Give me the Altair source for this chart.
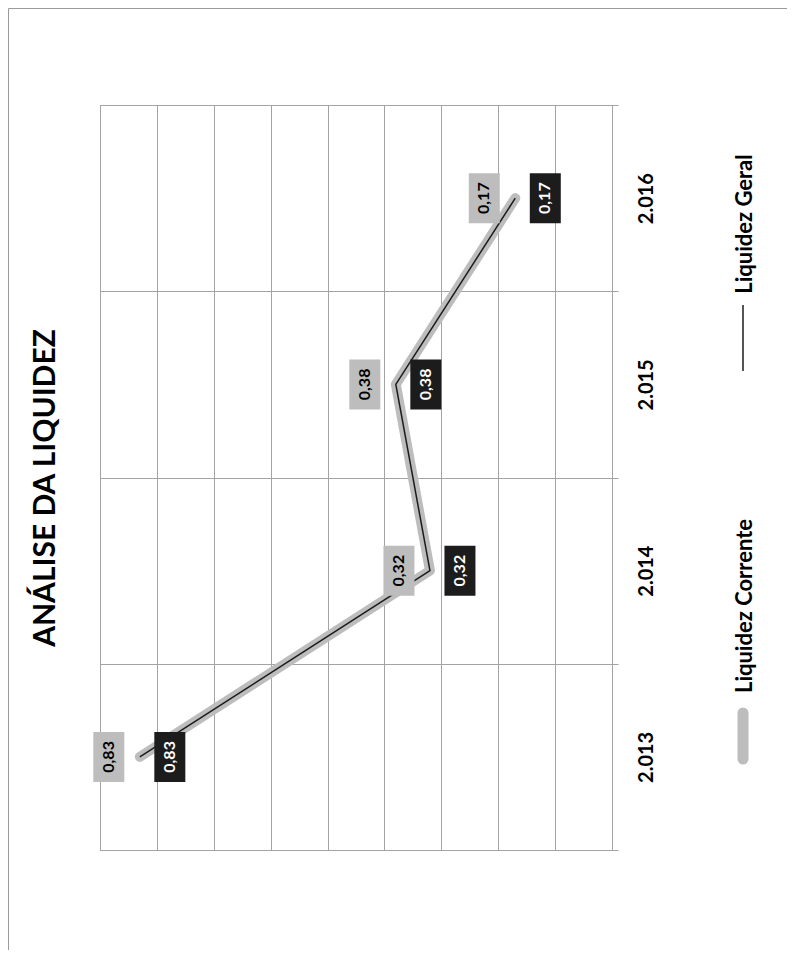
import altair as alt
import pandas as pd

# ---- data ----
years = ["2.013", "2.014", "2.015", "2.016"]
liquidez_corrente = [0.83, 0.32, 0.38, 0.17]
liquidez_geral = [0.83, 0.32, 0.38, 0.17]
series_names = ["Liquidez Corrente", "Liquidez Geral"]
value_gridlines = [0.0, 0.1, 0.2, 0.3, 0.4, 0.5, 0.6, 0.7, 0.8, 0.9]
title_text = "ANÁLISE DA LIQUIDEZ"


def fmt(v):
    return f"{v:.2f}".replace(".", ",")


rows = []
for name, vals in zip(series_names, [liquidez_corrente, liquidez_geral]):
    for i, (yr, v) in enumerate(zip(years, vals)):
        rows.append({"ano": yr, "valor": v, "serie": name, "ordem": i, "rotulo": fmt(v)})
df = pd.DataFrame(rows)

FONT = "Lato"
GRID = "#a3a3a3"
GRAY = "#bdbdbd"
DARK = "#1c1c1c"

y_enc = alt.Y(
    "ano:O",
    sort="descending",
    scale=alt.Scale(type="band", paddingInner=0, paddingOuter=0),
    axis=alt.Axis(
        orient="right", title=None, tickBand="extent", grid=True, gridColor=GRID,
        ticks=True, tickColor=GRID, tickSize=6, domain=False,
        labelAngle=270, labelAlign="center", labelBaseline="middle", labelPadding=28,
        labelFont=FONT, labelFontSize=20, labelFontWeight="bold", labelColor="#000000",
    ),
)
x_enc = alt.X(
    "valor:Q",
    scale=alt.Scale(domain=[0, 0.9], reverse=True, nice=False, zero=True),
    axis=alt.Axis(values=value_gridlines, labels=False, ticks=False, domain=False,
                  grid=True, gridColor=GRID, title=None),
)

base = alt.Chart(df)
corr = base.transform_filter(alt.datum.serie == series_names[0])
ger = base.transform_filter(alt.datum.serie == series_names[1])

line_corr = corr.mark_line(color=GRAY, strokeWidth=10, strokeCap="round", strokeJoin="round").encode(
    x=x_enc, y=y_enc, order=alt.Order("ordem:Q"))
line_ger = ger.mark_line(color=DARK, strokeWidth=1.5).encode(
    x=x_enc, y=y_enc, order=alt.Order("ordem:Q"))

BOX = "M-0.62,-1L0.62,-1L0.62,1L-0.62,1Z"
box_corr = corr.mark_point(shape=BOX, size=2500, filled=True, opacity=1, color=GRAY,
                           strokeWidth=0, xOffset=-31).encode(x=x_enc, y=y_enc)
box_ger = ger.mark_point(shape=BOX, size=2500, filled=True, opacity=1, color=DARK,
                         strokeWidth=0, xOffset=30).encode(x=x_enc, y=y_enc)
txt_corr = corr.mark_text(angle=270, font=FONT, fontSize=16, fontWeight="bold", color="#000000",
                          align="center", baseline="middle", xOffset=-31).encode(
    x=x_enc, y=y_enc, text="rotulo:N")
txt_ger = ger.mark_text(angle=270, font=FONT, fontSize=16, fontWeight="bold", color="#ffffff",
                        align="center", baseline="middle", xOffset=30).encode(
    x=x_enc, y=y_enc, text="rotulo:N")

# ---- title (rotated, on the left) ----
title = alt.Chart(pd.DataFrame({"t": [title_text]})).mark_text(
    angle=270, font=FONT, fontSize=30, fontWeight="bold", color="#000000",
    align="center", baseline="middle").encode(
    text="t:N", x=alt.value(-54), y=alt.value(383))

# ---- manual rotated legend ----
leg_df = pd.DataFrame({"t": series_names})
leg_txt_corr = alt.Chart(leg_df).transform_filter(alt.datum.t == series_names[0]).mark_text(
    angle=270, font=FONT, fontSize=22, fontWeight="bold", color="#000000",
    align="center", baseline="middle").encode(text="t:N", x=alt.value(645), y=alt.value(501))
leg_txt_ger = alt.Chart(leg_df).transform_filter(alt.datum.t == series_names[1]).mark_text(
    angle=270, font=FONT, fontSize=22, fontWeight="bold", color="#000000",
    align="center", baseline="middle").encode(text="t:N", x=alt.value(645), y=alt.value(119))
leg_sym_corr = alt.Chart(leg_df).transform_filter(alt.datum.t == series_names[0]).mark_rule(
    color=GRAY, strokeWidth=11, strokeCap="round").encode(
    x=alt.value(643), y=alt.value(608), y2=alt.value(654))
leg_sym_ger = alt.Chart(leg_df).transform_filter(alt.datum.t == series_names[1]).mark_rule(
    color=DARK, strokeWidth=1.5).encode(
    x=alt.value(643), y=alt.value(200), y2=alt.value(266))

# ---- outer frame lines ----
frame_left = alt.Chart(leg_df).transform_filter(alt.datum.t == series_names[0]).mark_rule(
    color="#9a9a9a", strokeWidth=1).encode(x=alt.value(-91.5), y=alt.value(-96.5), y2=alt.value(900))
frame_top = alt.Chart(leg_df).transform_filter(alt.datum.t == series_names[0]).mark_rule(
    color="#9a9a9a", strokeWidth=1).encode(x=alt.value(-91.5), x2=alt.value(720), y=alt.value(-96.5))

chart = alt.layer(
    line_corr, line_ger, box_corr, box_ger, txt_corr, txt_ger,
    title, leg_txt_corr, leg_txt_ger, leg_sym_corr, leg_sym_ger, frame_left, frame_top,
).properties(
    width=512, height=745,
    autosize=alt.AutoSizeParams(type="none"),
    padding={"left": 92, "top": 97, "right": 175, "bottom": 100},
    background="#ffffff",
).configure_view(stroke=GRID, strokeWidth=1).configure_axis(gridWidth=1)

chart.save("out.html", embed_options={"renderer": "svg", "actions": False})
